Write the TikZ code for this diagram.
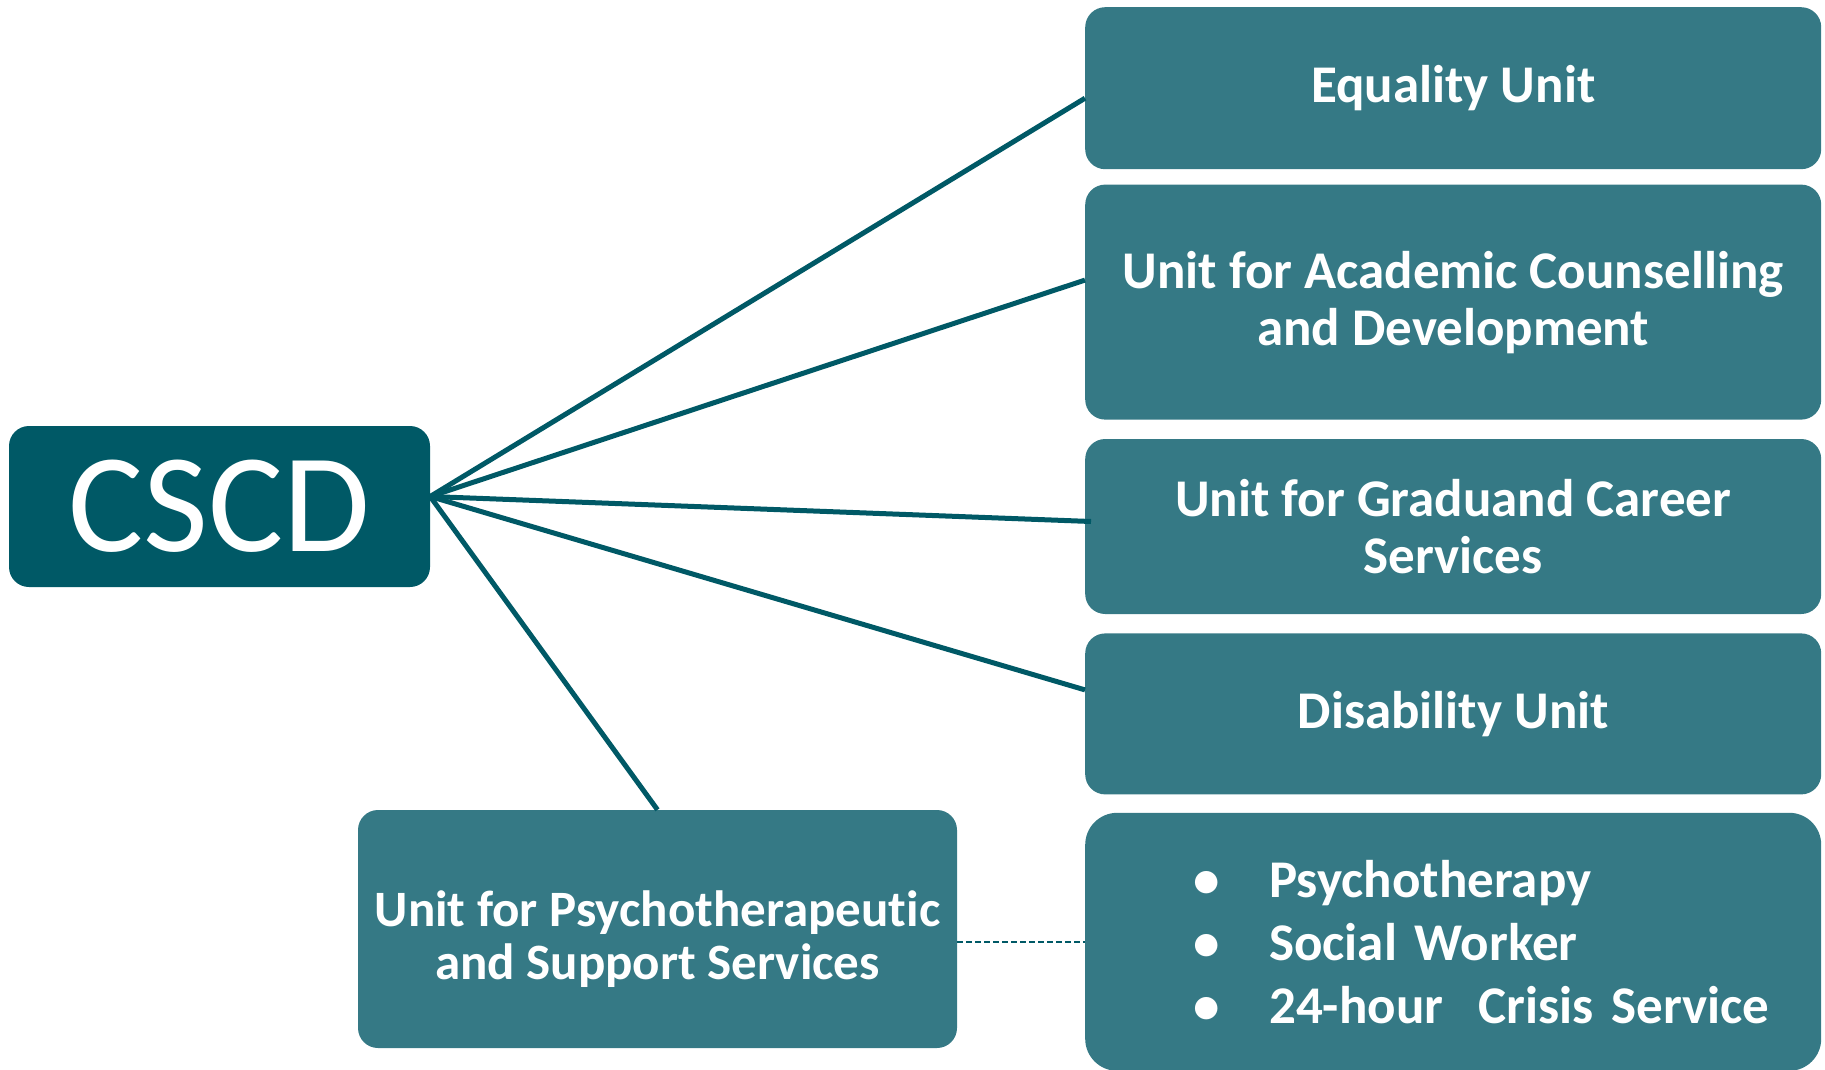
\documentclass[tikz,border=0pt]{standalone}
\usepackage{fontspec}
\setmainfont{Carlito}[Ligatures=NoCommon]
\usetikzlibrary{positioning}

\definecolor{cscdteal}{RGB}{0,89,102}
\definecolor{unitteal}{RGB}{53,121,133}

\newcommand{\svcitem}[1]{\hspace*{108pt}\makebox[76pt][l]{\textbullet}#1}

\begin{document}
\begin{tikzpicture}[x=1pt,y=-1pt,
    unit/.style={rectangle, rounded corners=20pt, fill=unitteal, text=white,
        font=\bfseries\fontsize{53}{57}\selectfont, align=center,
        inner sep=0pt, minimum width=736pt},
    link/.style={draw=cscdteal, line width=5pt}]
    \useasboundingbox (0,0) rectangle (1825,1070);

    % centre and units
    \node[rectangle, rounded corners=20pt, fill=cscdteal, text=white,
        font=\fontsize{141}{150}\selectfont, inner sep=0pt,
        minimum width=421pt, minimum height=161pt] (cscd) at (219.5,506.5) {CSCD};
    \node[unit, minimum height=162pt, anchor=north west] (equality) at (1085,7) {Equality Unit};
    \node[unit, minimum height=235pt, below=15pt of equality] (academic) {Unit for Academic Counselling\\and Development};
    \node[unit, minimum height=175pt, below=19pt of academic] (graduand) {Unit for Graduand Career\\Services};
    \node[unit, minimum height=161pt, below=19pt of graduand] (disability) {Disability Unit};
    \node[unit, minimum height=258pt, below=18pt of disability, rounded corners=32pt,
        align=left, text width=736pt, font=\bfseries\fontsize{53}{63}\selectfont] (services)
        {\svcitem{Psychotherapy}\\\svcitem{Social Worker}\\\svcitem{24-hour\ \ Crisis Service}};
    \node[unit, minimum width=599pt, minimum height=238pt,
        font=\bfseries\fontsize{51}{53}\selectfont] (psycho) at (657.5,929)
        {\rule{0pt}{55pt}Unit for Psychotherapeutic\\and Support Services};

    % connectors
    \coordinate (hub) at ([yshift=10pt]cscd.east);
    \draw[link] (hub) -- ([yshift=-10pt]equality.west);
    \draw[link] (hub) -- ([yshift=22pt]academic.west);
    \draw[link] (hub) -- ([xshift=6pt,yshift=5pt]graduand.west);
    \draw[link] (hub) -- ([yshift=24pt]disability.west);
    \draw[link] (hub) -- (psycho.north);
    \draw[draw=cscdteal, line width=2.5pt, dash pattern=on 6pt off 3pt]
        (psycho.east |- services.west) -- (services.west);
\end{tikzpicture}
\end{document}
